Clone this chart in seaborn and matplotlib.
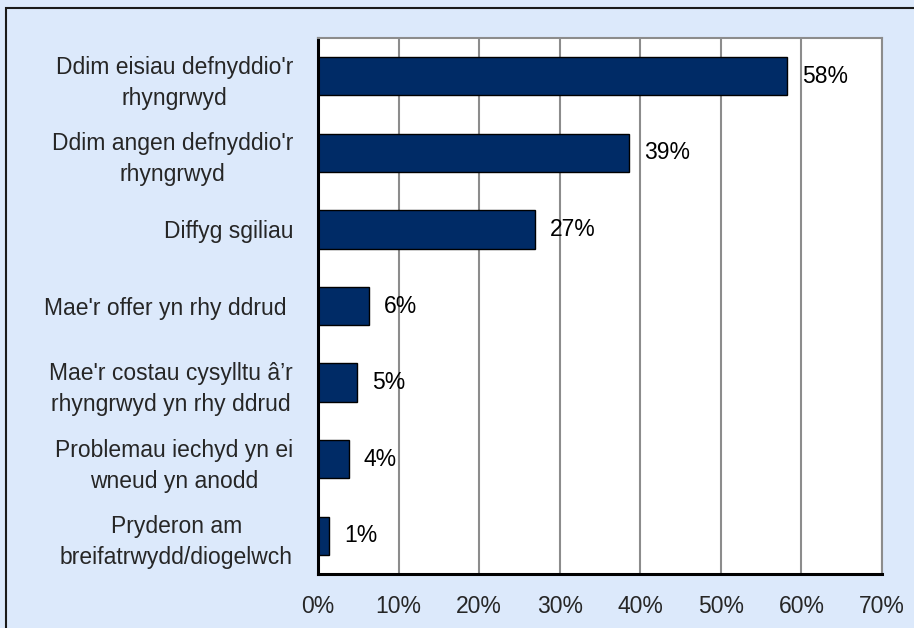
import numpy as np
import pandas as pd
import matplotlib
matplotlib.use('Agg')
import matplotlib.pyplot as plt
import matplotlib.ticker as mticker
from matplotlib.patches import Rectangle
import seaborn as sns

# Chart data
reasons = [
    "Ddim eisiau defnyddio'r\nrhyngrwyd",
    "Ddim angen defnyddio'r\nrhyngrwyd",
    "Diffyg sgiliau",
    "Mae'r offer yn rhy ddrud ",
    "Mae'r costau cysylltu â’r\nrhyngrwyd yn rhy ddrud",
    "Problemau iechyd yn ei\nwneud yn anodd",
    "Pryderon am\nbreifatrwydd/diogelwch",
]
shares = [58.2, 38.6, 26.9, 6.3, 4.8, 3.8, 1.4]
share_labels = ["58%", "39%", "27%", "6%", "5%", "4%", "1%"]
x_ticks = [0, 10, 20, 30, 40, 50, 60, 70]

df = pd.DataFrame({'reason': reasons, 'share': shares})

sns.set_style('white')
plt.rcParams['font.family'] = ['Liberation Sans', 'DejaVu Sans']
fs = 16.5

fig = plt.figure(figsize=(9.14, 6.28), dpi=100, facecolor='#DCE9FB')
ax = fig.add_axes([318 / 914, 1 - 574 / 628, (882 - 318) / 914, (574 - 38) / 628])
ax.set_facecolor('white')

sns.barplot(data=df, x='share', y='reason', orient='h', color='#002B66',
            edgecolor='black', linewidth=1.0, width=0.5, saturation=1, ax=ax)

# value labels
for i, (v, lab) in enumerate(zip(shares, share_labels)):
    ax.annotate(lab, (v, i), xytext=(11, 0), textcoords='offset points',
                va='center', ha='left', fontsize=fs, color='black')

ax.set_xlim(0, 70)
ax.set_ylim(6.5, -0.5)
ax.set_xticks(x_ticks)
ax.xaxis.set_major_formatter(mticker.FuncFormatter(lambda v, p: f"{int(v)}%"))
ax.set_xlabel('')
ax.set_ylabel('')

ax.xaxis.grid(True, color='#8C8C8C', linewidth=1.5)
ax.yaxis.grid(False)
ax.set_axisbelow(True)

# tick styling
ax.tick_params(axis='x', which='major', direction='out', length=6, width=1.5,
               color='black', labelsize=fs, pad=9)
ax.tick_params(axis='y', which='major', length=0, labelsize=fs, pad=18)
ax.set_yticks(np.arange(-0.5, 7, 1), minor=True)
ax.tick_params(axis='y', which='minor', direction='out', length=6, width=1.5, color='black')
for t in ax.get_yticklabels():
    t.set_multialignment('center')
    t.set_linespacing(1.45)

for side in ['left', 'bottom']:
    ax.spines[side].set_color('black')
    ax.spines[side].set_linewidth(2.2)
for side in ['top', 'right']:
    ax.spines[side].set_color('#8C8C8C')
    ax.spines[side].set_linewidth(1.5)

# outer chart border (only top and left are inside the picture)
fig.patches.append(Rectangle((6 / 914, -0.1), 1.2, 1 - 8 / 628 + 0.1,
                             transform=fig.transFigure, fill=False,
                             edgecolor='#1A1A1A', linewidth=1.5))

fig.savefig('out.png', dpi=100, facecolor=fig.get_facecolor())
